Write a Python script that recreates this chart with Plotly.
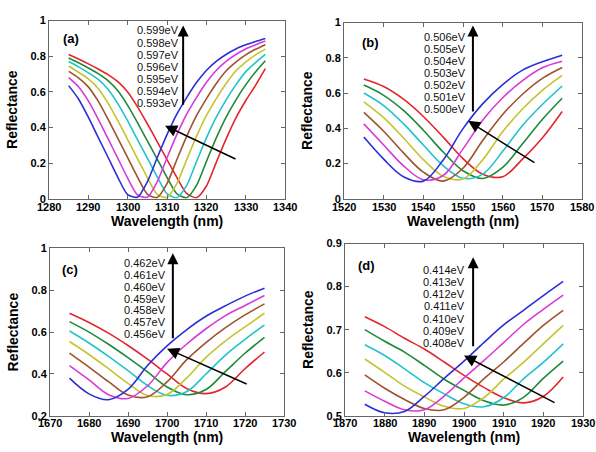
import plotly.graph_objects as go

W, H = 596, 452

# ---------------- data ----------------
wl_a = [1285.0, 1287.5, 1290.0, 1292.5, 1295.0, 1297.5, 1300.0, 1302.5, 1305.0, 1307.5,
        1310.0, 1312.5, 1315.0, 1317.5, 1320.0, 1322.5, 1325.0, 1327.5, 1330.0, 1332.5, 1335.0]
energies_a = ["0.593eV", "0.594eV", "0.595eV", "0.596eV", "0.597eV", "0.598eV", "0.599eV"]
a_593 = [0.81, 0.784, 0.757, 0.728, 0.697, 0.657, 0.599, 0.516, 0.421, 0.321, 0.22, 0.12, 0.03, 0.006, 0.07, 0.203, 0.335, 0.453, 0.55, 0.636, 0.73]
a_594 = [0.79, 0.763, 0.734, 0.702, 0.663, 0.606, 0.524, 0.427, 0.325, 0.223, 0.12, 0.028, 0.006, 0.075, 0.208, 0.34, 0.457, 0.554, 0.639, 0.712, 0.775]
a_595 = [0.77, 0.74, 0.707, 0.67, 0.615, 0.534, 0.437, 0.332, 0.228, 0.124, 0.029, 0.006, 0.075, 0.208, 0.34, 0.457, 0.554, 0.639, 0.712, 0.764, 0.81]
a_596 = [0.745, 0.71, 0.673, 0.619, 0.537, 0.438, 0.332, 0.225, 0.119, 0.025, 0.007, 0.085, 0.219, 0.35, 0.466, 0.561, 0.646, 0.717, 0.767, 0.808, 0.84]
a_597 = [0.715, 0.679, 0.628, 0.548, 0.447, 0.339, 0.231, 0.122, 0.026, 0.007, 0.085, 0.219, 0.35, 0.466, 0.561, 0.646, 0.717, 0.767, 0.808, 0.839, 0.865]
a_598 = [0.68, 0.629, 0.549, 0.447, 0.337, 0.227, 0.116, 0.022, 0.009, 0.095, 0.23, 0.36, 0.475, 0.568, 0.652, 0.72, 0.771, 0.81, 0.841, 0.864, 0.885]
a_599 = [0.635, 0.56, 0.458, 0.345, 0.233, 0.12, 0.023, 0.009, 0.095, 0.23, 0.36, 0.475, 0.568, 0.652, 0.72, 0.771, 0.81, 0.841, 0.864, 0.883, 0.90]
xticks_a = [1280, 1290, 1300, 1310, 1320, 1330, 1340]

wl_b = [1525, 1530, 1535, 1540, 1545, 1550, 1555, 1560, 1565, 1570, 1575]
energies_b = ["0.500eV", "0.501eV", "0.502eV", "0.503eV", "0.504eV", "0.505eV", "0.506eV"]
b_500 = [0.68, 0.637, 0.565, 0.467, 0.35, 0.228, 0.139, 0.125, 0.225, 0.345, 0.495]
b_501 = [0.645, 0.587, 0.501, 0.389, 0.265, 0.159, 0.115, 0.178, 0.312, 0.45, 0.57]
b_502 = [0.60, 0.529, 0.426, 0.305, 0.188, 0.116, 0.14, 0.269, 0.416, 0.535, 0.64]
b_503 = [0.55, 0.46, 0.345, 0.222, 0.128, 0.112, 0.222, 0.38, 0.509, 0.615, 0.70]
b_504 = [0.49, 0.383, 0.26, 0.151, 0.10, 0.173, 0.332, 0.478, 0.593, 0.683, 0.745]
b_505 = [0.425, 0.305, 0.187, 0.108, 0.132, 0.283, 0.447, 0.573, 0.67, 0.743, 0.78]
b_506 = [0.35, 0.225, 0.125, 0.10, 0.22, 0.398, 0.54, 0.648, 0.73, 0.778, 0.815]
xticks_b = [1520, 1530, 1540, 1550, 1560, 1570, 1580]

wl_c = [1675, 1680, 1685, 1690, 1695, 1700, 1705, 1710, 1715, 1720, 1725]
energies_c = ["0.456eV", "0.457eV", "0.458eV", "0.459eV", "0.460eV", "0.461eV", "0.462eV"]
c_456 = [0.69, 0.646, 0.595, 0.536, 0.471, 0.40, 0.331, 0.306, 0.338, 0.425, 0.505]
c_457 = [0.65, 0.60, 0.542, 0.478, 0.41, 0.338, 0.301, 0.326, 0.412, 0.499, 0.575]
c_458 = [0.605, 0.548, 0.484, 0.416, 0.345, 0.298, 0.315, 0.40, 0.49, 0.565, 0.635]
c_459 = [0.555, 0.493, 0.425, 0.355, 0.297, 0.302, 0.38, 0.479, 0.558, 0.625, 0.69]
c_460 = [0.50, 0.433, 0.363, 0.299, 0.291, 0.362, 0.467, 0.55, 0.621, 0.682, 0.735]
c_461 = [0.44, 0.372, 0.301, 0.283, 0.343, 0.454, 0.542, 0.616, 0.679, 0.727, 0.775]
c_462 = [0.38, 0.305, 0.277, 0.326, 0.44, 0.534, 0.611, 0.676, 0.726, 0.772, 0.81]
xticks_c = [1670, 1680, 1690, 1700, 1710, 1720, 1730]

wl_d = [1875, 1880, 1885, 1890, 1895, 1900, 1905, 1910, 1915, 1920, 1925]
energies_d = ["0.408eV", "0.409eV", "0.410eV", "0.411eV", "0.412eV", "0.413eV", "0.414eV"]
d_408 = [0.73, 0.707, 0.68, 0.655, 0.625, 0.594, 0.566, 0.542, 0.53, 0.545, 0.59]
d_409 = [0.70, 0.673, 0.648, 0.617, 0.585, 0.559, 0.535, 0.525, 0.543, 0.587, 0.627]
d_410 = [0.665, 0.64, 0.609, 0.577, 0.551, 0.528, 0.521, 0.542, 0.586, 0.624, 0.667]
d_411 = [0.632, 0.601, 0.569, 0.544, 0.522, 0.517, 0.542, 0.585, 0.624, 0.667, 0.71]
d_412 = [0.595, 0.564, 0.538, 0.517, 0.514, 0.543, 0.586, 0.625, 0.668, 0.71, 0.745]
d_413 = [0.558, 0.534, 0.514, 0.514, 0.546, 0.588, 0.628, 0.67, 0.712, 0.747, 0.78]
d_414 = [0.527, 0.507, 0.51, 0.545, 0.587, 0.627, 0.67, 0.711, 0.745, 0.779, 0.812]
xticks_d = [1870, 1880, 1890, 1900, 1910, 1920, 1930]

# ---------------- styles ----------------
colors = ["#e3262b", "#1e8a3a", "#1fc4cc", "#c4c430", "#a0522d", "#d83ad8", "#2b2fd6"]
FONT = "Liberation Sans, Arial, sans-serif"

panels = [
    dict(tag="(a)", wl=wl_a, ys=[a_593, a_594, a_595, a_596, a_597, a_598, a_599], en=energies_a,
         xt=xticks_a, box=(49, 285, 15, 198), xr=[1280, 1340], yr=[0, 1], yd=0.2, sm=0.7,
         tl_y=206, xt_y=221,
         txt_x=1313.3, txt_y0=0.945, txt_dy=0.0683, varrow=(1314.1, 0.973, 0.519),
         darrow=((1309.5, 0.41), (1327.8, 0.219)), lab=(1285.6, 0.90)),
    dict(tag="(b)", wl=wl_b, ys=[b_500, b_501, b_502, b_503, b_504, b_505, b_506], en=energies_b,
         xt=xticks_b, box=(344, 582, 17, 198), xr=[1520, 1580], yr=[0, 1], yd=0.2, sm=1.0,
         tl_y=206, xt_y=221,
         txt_x=1551.0, txt_y0=0.917, txt_dy=0.068, varrow=(1552.5, 0.983, 0.486),
         darrow=((1551.3, 0.442), (1568.4, 0.199)), lab=(1526.6, 0.884)),
    dict(tag="(c)", wl=wl_c, ys=[c_456, c_457, c_458, c_459, c_460, c_461, c_462], en=energies_c,
         xt=xticks_c, box=(50, 284, 249, 421), xr=[1670, 1730], yr=[0.2, 1], yd=0.2, sm=1.0,
         tl_y=428, xt_y=443,
         txt_x=1700.0, txt_y0=0.930, txt_dy=0.0565, varrow=(1701.5, 0.977, 0.563),
         darrow=((1700.0, 0.521), (1720.8, 0.349)), lab=(1675.1, 0.898)),
    dict(tag="(d)", wl=wl_d, ys=[d_408, d_409, d_410, d_411, d_412, d_413, d_414], en=energies_d,
         xt=xticks_d, box=(345, 583, 244, 421), xr=[1870, 1930], yr=[0.5, 0.9], yd=0.1, sm=1.0,
         tl_y=428, xt_y=443,
         txt_x=1900.5, txt_y0=0.839, txt_dy=0.0283, varrow=(1902.3, 0.868, 0.658),
         darrow=((1900.0, 0.640), (1923.2, 0.529)), lab=(1875.3, 0.85)),
]

fig = go.Figure()
layout = dict(width=W, height=H, margin=dict(l=0, r=0, t=0, b=0),
              paper_bgcolor="white", plot_bgcolor="white", showlegend=False)
annotations = []
title_font = dict(family=FONT, size=14, color="black", weight="bold")
tick_font = dict(family=FONT, size=11, color="black", weight="bold")

for i, p in enumerate(panels):
    n = "" if i == 0 else str(i + 1)
    xa, ya = "x" + n, "y" + n
    for k in range(7):
        fig.add_trace(go.Scatter(x=p["wl"], y=p["ys"][k], mode="lines", xaxis=xa, yaxis=ya,
                                 line=dict(color=colors[k], width=1.6, shape="spline", smoothing=p["sm"]),
                                 hoverinfo="skip"))
    x0, x1, t, b = p["box"]
    axis_common = dict(showline=True, linecolor="#666", linewidth=1, mirror="ticks",
                       ticks="inside", ticklen=4, tickcolor="#666", showgrid=False, zeroline=False,
                       tickfont=tick_font)
    layout["xaxis" + n] = dict(axis_common, domain=[x0 / W, x1 / W], range=p["xr"],
                               tickvals=p["xt"], showticklabels=False, anchor=ya)
    layout["yaxis" + n] = dict(axis_common, domain=[1 - b / H, 1 - t / H], range=p["yr"], dtick=p["yd"],
                               anchor=xa,
                               title=dict(text="Reflectance", standoff=9, font=title_font))
    # x tick labels placed close to the axis, as in the reference
    for v in p["xt"]:
        annotations.append(dict(x=v, y=1 - p["tl_y"] / H, xref=xa, yref="paper", text=str(v),
                                showarrow=False, xanchor="center", yanchor="middle",
                                borderpad=0, font=tick_font))
    # x-axis title
    annotations.append(dict(x=(x0 + x1) / 2 / W, y=1 - p["xt_y"] / H, xref="paper", yref="paper",
                            text="Wavelength (nm)", showarrow=False, xanchor="center",
                            yanchor="middle", borderpad=0, font=title_font))
    # panel tag
    annotations.append(dict(x=p["lab"][0], y=p["lab"][1], xref=xa, yref=ya, text=p["tag"],
                            showarrow=False, borderpad=0,
                            font=dict(family=FONT, size=13, color="black", weight="bold")))
    # energy list (highest on top)
    for j, e in enumerate(reversed(p["en"])):
        annotations.append(dict(x=p["txt_x"], y=p["txt_y0"] - j * p["txt_dy"], xref=xa, yref=ya,
                                text=e, showarrow=False, xanchor="right", yanchor="middle",
                                borderpad=0, font=dict(family=FONT, size=11, color="#111")))
    # vertical arrow
    vx, vtop, vbot = p["varrow"]
    annotations.append(dict(x=vx, y=vtop, ax=vx, ay=vbot, xref=xa, yref=ya, axref=xa, ayref=ya,
                            text="", showarrow=True, arrowhead=2, arrowsize=1.1, arrowwidth=2,
                            arrowcolor="black"))
    # diagonal arrow
    (hx, hy), (tx, ty) = p["darrow"]
    annotations.append(dict(x=hx, y=hy, ax=tx, ay=ty, xref=xa, yref=ya, axref=xa, ayref=ya,
                            text="", showarrow=True, arrowhead=2, arrowsize=1.6, arrowwidth=1.5,
                            arrowcolor="black"))

layout["annotations"] = annotations
fig.update_layout(**layout)
fig.write_html("out.html", config={"displayModeBar": False},
               post_script="document.body.style.margin='0';document.body.style.overflow='hidden';")
